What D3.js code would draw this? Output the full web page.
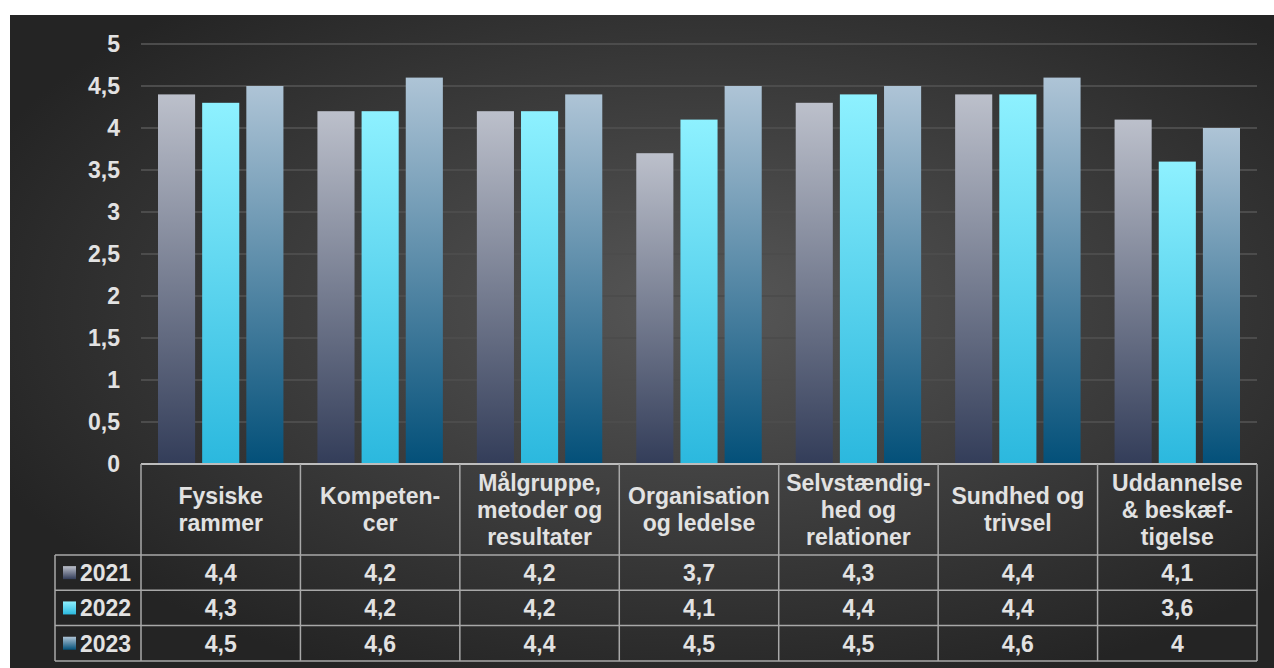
<!DOCTYPE html>
<html>
<head>
<meta charset="utf-8">
<script src="https://cdn.jsdelivr.net/npm/d3@7"></script>
<style>
  body { margin: 0; background: #fff; }
  svg { display: block; font-family: "Liberation Sans", Arial, sans-serif; font-weight: bold; }
</style>
</head>
<body>
<div id="chart"></div>
<script>
// data
const categories = ["Fysiske rammer", "Kompetencer", "Målgruppe, metoder og resultater",
    "Organisation og ledelse", "Selvstændighed og relationer", "Sundhed og trivsel",
    "Uddannelse & beskæftigelse"];
const headerLines = [
    ["Fysiske", "rammer"],
    ["Kompeten-", "cer"],
    ["Målgruppe,", "metoder og", "resultater"],
    ["Organisation", "og ledelse"],
    ["Selvstændig-", "hed og", "relationer"],
    ["Sundhed og", "trivsel"],
    ["Uddannelse", "& beskæf-", "tigelse"]
];
const years = ["2021", "2022", "2023"];
const values2021 = [4.4, 4.2, 4.2, 3.7, 4.3, 4.4, 4.1];
const values2022 = [4.3, 4.2, 4.2, 4.1, 4.4, 4.4, 3.6];
const values2023 = [4.5, 4.6, 4.4, 4.5, 4.5, 4.6, 4.0];
const yTicks = [0, 0.5, 1, 1.5, 2, 2.5, 3, 3.5, 4, 4.5, 5];

const seriesValues = { "2021": values2021, "2022": values2022, "2023": values2023 };
const barColors = {
    "2021": ["#bcc0cb", "#333d59"],
    "2022": ["#8ef1ff", "#2bb8de"],
    "2023": ["#aec4d6", "#035079"]
};

const W = 1274, H = 668;
const plot = { left: 141, right: 1257, top: 44, bottom: 464 };
const table = { legendLeft: 55, headerBottom: 555, rowH: 35.3 };
const textColor = "#e2e2e2";
const lineColor = "#a8a8a8";
const fontSize = "23px";

const fmt = v => String(v).replace(".", ",");

const svg = d3.select("#chart").append("svg")
    .attr("width", W)
    .attr("height", H);

const defs = svg.append("defs");

// background gradient
const bg = defs.append("radialGradient")
    .attr("id", "bg")
    .attr("cx", "55%").attr("cy", "45%").attr("r", "62%");
bg.append("stop").attr("offset", "0%").attr("stop-color", "#575757");
bg.append("stop").attr("offset", "100%").attr("stop-color", "#242424");

years.forEach(yr => {
    const g = defs.append("linearGradient")
        .attr("id", "grad" + yr)
        .attr("x1", 0).attr("y1", 0).attr("x2", 0).attr("y2", 1);
    g.append("stop").attr("offset", "0%").attr("stop-color", barColors[yr][0]);
    g.append("stop").attr("offset", "100%").attr("stop-color", barColors[yr][1]);
});

svg.append("rect")
    .attr("x", 10).attr("y", 15)
    .attr("width", W - 10).attr("height", H - 15)
    .attr("fill", "url(#bg)");

// scales
const x0 = d3.scaleBand()
    .domain(categories)
    .range([plot.left, plot.right])
    .padding(0);

const groupW = x0.bandwidth();
const x1 = d3.scaleBand()
    .domain(years)
    .range([17, groupW - 17])
    .paddingInner(0.16);

const y = d3.scaleLinear()
    .domain([0, 5])
    .range([plot.bottom, plot.top]);

// gridlines
svg.append("g")
    .selectAll("line")
    .data(yTicks.filter(t => t > 0))
    .join("line")
    .attr("x1", plot.left).attr("x2", plot.right)
    .attr("y1", d => y(d)).attr("y2", d => y(d))
    .attr("stroke", "#4c4c4c")
    .attr("stroke-width", 2);

// y axis
const yAxis = svg.append("g")
    .attr("transform", `translate(${plot.left - 21},0)`)
    .call(d3.axisLeft(y).tickValues(yTicks).tickSize(0).tickFormat(fmt));
yAxis.select(".domain").remove();
yAxis.selectAll("text")
    .attr("x", 0)
    .attr("fill", textColor)
    .style("font-size", fontSize)
    .style("font-family", "Liberation Sans, Arial, sans-serif")
    .style("font-weight", "bold");

// bars
const groups = svg.append("g")
    .selectAll("g")
    .data(categories)
    .join("g")
    .attr("transform", d => `translate(${x0(d)},0)`);

groups.selectAll("rect")
    .data((d, i) => years.map(yr => ({ yr: yr, v: seriesValues[yr][i] })))
    .join("rect")
    .attr("x", d => x1(d.yr))
    .attr("width", x1.bandwidth())
    .attr("y", d => y(d.v))
    .attr("height", d => y(0) - y(d.v))
    .attr("fill", d => `url(#grad${d.yr})`);

// data table
const tbl = svg.append("g");
const rowTop = i => table.headerBottom + i * table.rowH;

// horizontal lines
tbl.append("line")
    .attr("x1", plot.left).attr("x2", plot.right)
    .attr("y1", plot.bottom).attr("y2", plot.bottom)
    .attr("stroke", "#bdbdbd").attr("stroke-width", 2);
tbl.selectAll("line.h")
    .data(d3.range(years.length + 1))
    .join("line")
    .attr("class", "h")
    .attr("x1", table.legendLeft).attr("x2", plot.right)
    .attr("y1", d => rowTop(d)).attr("y2", d => rowTop(d))
    .attr("stroke", lineColor).attr("stroke-width", 1.5);

// vertical lines
const colEdges = categories.map(c => x0(c)).concat([plot.right]);
tbl.selectAll("line.v")
    .data(colEdges)
    .join("line")
    .attr("class", "v")
    .attr("x1", d => d).attr("x2", d => d)
    .attr("y1", plot.bottom).attr("y2", rowTop(years.length))
    .attr("stroke", lineColor).attr("stroke-width", 1.5);
tbl.append("line")
    .attr("x1", table.legendLeft).attr("x2", table.legendLeft)
    .attr("y1", rowTop(0)).attr("y2", rowTop(years.length))
    .attr("stroke", lineColor).attr("stroke-width", 1.5);

// header text
const headerMid = (plot.bottom + table.headerBottom) / 2;
const lineH = 27;
categories.forEach((c, i) => {
    const lines = headerLines[i];
    const t = tbl.append("text")
        .attr("text-anchor", "middle")
        .attr("fill", textColor)
        .style("font-size", fontSize);
    lines.forEach((ln, j) => {
        t.append("tspan")
            .attr("x", x0(c) + groupW / 2)
            .attr("y", headerMid + (j - (lines.length - 1) / 2) * lineH)
            .attr("dy", "0.36em")
            .text(ln);
    });
});

// rows: legend + values
years.forEach((yr, r) => {
    const cy = rowTop(r) + table.rowH / 2;
    tbl.append("rect")
        .attr("x", 63).attr("y", cy - 6.5)
        .attr("width", 13).attr("height", 13)
        .attr("fill", `url(#grad${yr})`);
    tbl.append("text")
        .attr("x", 80).attr("y", cy)
        .attr("dy", "0.36em")
        .attr("fill", textColor)
        .style("font-size", fontSize)
        .text(yr);
    tbl.selectAll(null)
        .data(seriesValues[yr])
        .join("text")
        .attr("x", (d, i) => x0(categories[i]) + groupW / 2)
        .attr("y", cy)
        .attr("dy", "0.36em")
        .attr("text-anchor", "middle")
        .attr("fill", textColor)
        .style("font-size", fontSize)
        .text(d => fmt(d));
});
</script>
</body>
</html>
